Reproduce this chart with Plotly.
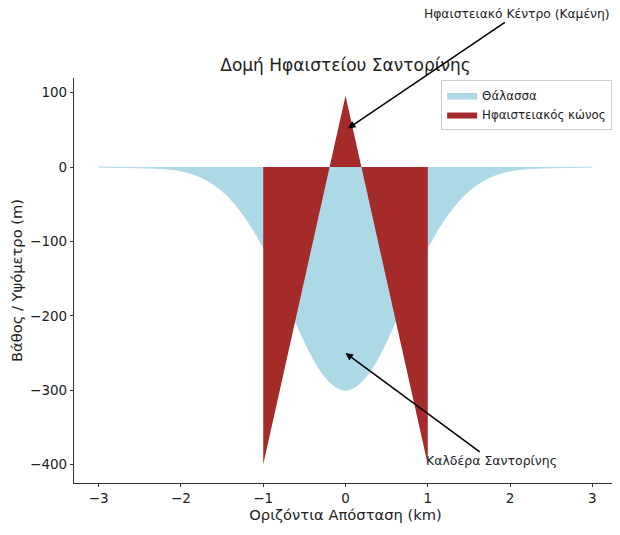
import plotly.graph_objects as go

# sea floor profile
sea_x = [-3, -2.5, -2.25, -2, -1.75, -1.5, -1.25, -1, -0.875, -0.75, -0.625, -0.5, -0.375, -0.25, -0.125, 0,
         0.125, 0.25, 0.375, 0.5, 0.625, 0.75, 0.875, 1, 1.25, 1.5, 1.75, 2, 2.25, 2.5, 3]
sea_y = [0, -1, -2, -5, -14, -32, -63, -108, -140, -171, -203, -234, -261, -282, -295, -300,
         -295, -282, -261, -234, -203, -171, -140, -108, -63, -32, -14, -5, -2, -1, 0]

# volcanic cone
cone_x = [-1, 0, 1]
cone_y = [-400, 96, -400]

font = "DejaVu Sans"
txt = "#222222"

# page body adds 8px margin, so the figure is a bit smaller than the window
W, H = 612, 527

fig = go.Figure()
fig.add_trace(go.Scatter(x=sea_x, y=sea_y, mode='lines', fill='tozeroy',
                         line=dict(color='#add8e6', width=1, shape='spline'),
                         fillcolor='#add8e6', name='Θάλασσα'))
fig.add_trace(go.Scatter(x=cone_x, y=cone_y, mode='lines', fill='tozeroy',
                         line=dict(color='#a52a2a', width=0),
                         fillcolor='#a52a2a', name='Ηφαιστειακός κώνος'))

fig.add_annotation(x=0.03, y=52, ax=2.09, ay=206, xref='x', yref='y', axref='x', ayref='y',
                   text='Ηφαιστειακό Κέντρο (Καμένη)', showarrow=True,
                   arrowhead=2, arrowsize=1, arrowwidth=1.5, arrowcolor='black',
                   font=dict(family=font, size=12.3, color=txt))
fig.add_annotation(x=0, y=-250, ax=1.78, ay=-395, xref='x', yref='y', axref='x', ayref='y',
                   text='Καλδέρα Σαντορίνης', showarrow=True,
                   arrowhead=2, arrowsize=1, arrowwidth=1.5, arrowcolor='black',
                   font=dict(family=font, size=12.5, color=txt))

fig.update_layout(
    width=W, height=H,
    margin=dict(l=66, r=3, t=70, b=52),
    paper_bgcolor='white', plot_bgcolor='white',
    font=dict(family=font, color=txt),
    title=dict(text='Δομή Ηφαιστείου Σαντορίνης', x=0.5, xref='paper', xanchor='center',
               y=1 - 57 / H, yanchor='middle', font=dict(size=17, color=txt)),
    legend=dict(x=0.991, y=0.995, xanchor='right', yanchor='top',
                bgcolor='rgba(255,255,255,0.8)', bordercolor='#cccccc', borderwidth=1,
                font=dict(size=11.8, color=txt), tracegroupgap=0),
    showlegend=True,
)
fig.update_xaxes(range=[-3.3, 3.3], tickmode='linear', tick0=-3, dtick=1,
                 showgrid=False, zeroline=False, showline=True, linecolor='#333333', linewidth=1.2,
                 ticks='outside', ticklen=3, tickcolor='#333333', tickfont=dict(size=13.5),
                 title=dict(text='Οριζόντια Απόσταση (km)', font=dict(size=14.7), standoff=2))
fig.update_yaxes(range=[-424.75, 119.75], tickmode='linear', tick0=-400, dtick=100,
                 showgrid=False, zeroline=False, showline=True, linecolor='#333333', linewidth=1.2,
                 ticks='outside', ticklen=3, tickcolor='#333333', tickfont=dict(size=13.5),
                 title=dict(text='Βάθος / Υψόμετρο (m)', font=dict(size=14.7), standoff=8))

fig.write_html("out.html")
